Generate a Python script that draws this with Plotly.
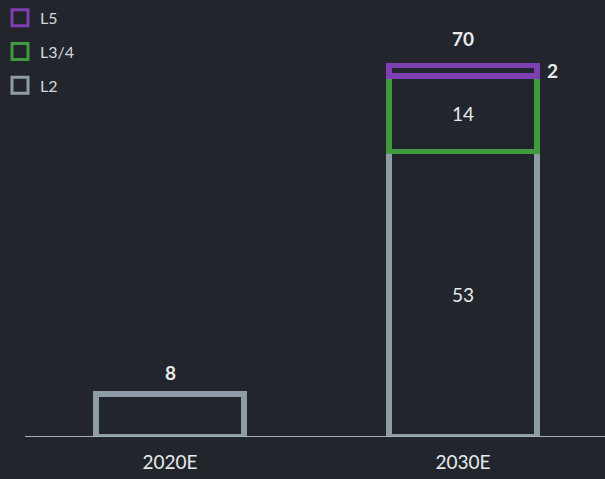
import plotly.graph_objects as go

categories = ["2020E", "2030E"]
l2 = [8, 53]
l34 = [None, 14]
l5 = [None, 2]
totals = [8, 70]
inner_labels_l2 = [None, "53"]
inner_labels_l34 = [None, "14"]

BG = "#22262c"
GRAY = "#8e9ca6"
GREEN = "#3f9b3b"
PURPLE = "#7e3fb3"
TXT = "#e8eaec"
FONT = "Lato"
BAR_W = 0.505

x = list(range(len(categories)))

fig = go.Figure()
series = [("L2", l2, GRAY), ("L3/4", l34, GREEN), ("L5", l5, PURPLE)]
for name, vals, col in series:
    fig.add_trace(go.Bar(
        x=x, y=vals, name=name, width=BAR_W,
        marker=dict(color="rgba(0,0,0,0)", line=dict(color=col, width=5.5)),
        showlegend=False, hoverinfo="skip",
    ))

# legend entries (L5 on top)
for name, vals, col in reversed(series):
    fig.add_trace(go.Scatter(
        x=[None], y=[None], mode="markers", name=name, legendgroup=name,
        marker=dict(symbol="square-open", size=16, color=col, line=dict(color=col, width=3)),
    ))

ann = []
for i, t in enumerate(totals):
    ann.append(dict(x=x[i], y=t, text=f"<b>{t}</b>", showarrow=False,
                    yanchor="bottom", yshift=8, font=dict(size=19, color=TXT, family=FONT)))
for i in x:
    if inner_labels_l2[i]:
        ann.append(dict(x=x[i], y=l2[i] / 2, text=inner_labels_l2[i], showarrow=False,
                        font=dict(size=19, color=TXT, family=FONT)))
    if inner_labels_l34[i]:
        ann.append(dict(x=x[i], y=l2[i] + l34[i] / 2, text=inner_labels_l34[i], showarrow=False,
                        font=dict(size=19, color=TXT, family=FONT)))
    if l5[i]:
        ann.append(dict(x=x[i] + BAR_W / 2, y=l2[i] + l34[i] + l5[i] / 2, text=f"<b>{l5[i]}</b>",
                        showarrow=False, xanchor="left", xshift=8,
                        font=dict(size=19, color=TXT, family=FONT)))

fig.update_layout(
    width=605, height=479,
    barmode="stack",
    paper_bgcolor=BG, plot_bgcolor=BG,
    margin=dict(l=0, r=0, t=6, b=42),
    font=dict(family=FONT, color=TXT, size=16),
    showlegend=True,
    legend=dict(x=0, y=1.012, xanchor="left", yanchor="top",
                bgcolor="rgba(0,0,0,0)", font=dict(size=16, color="#d6d9dc", family=FONT),
                tracegroupgap=10, itemclick=False),
    annotations=ann,
    shapes=[dict(type="line", xref="paper", yref="y", x0=25 / 605, x1=1, y0=0, y1=0,
                 line=dict(color="#a7b1b9", width=2), layer="above")],
    xaxis=dict(range=[-0.5802, 1.4846], tickmode="array", tickvals=x, ticktext=categories,
               showgrid=False, zeroline=False, showline=False,
               ticks="", tickfont=dict(size=19, color=TXT, family=FONT), ticklabelstandoff=12),
    yaxis=dict(range=[0, 80], visible=False, showgrid=False),
)

fig.write_html("out.html")
